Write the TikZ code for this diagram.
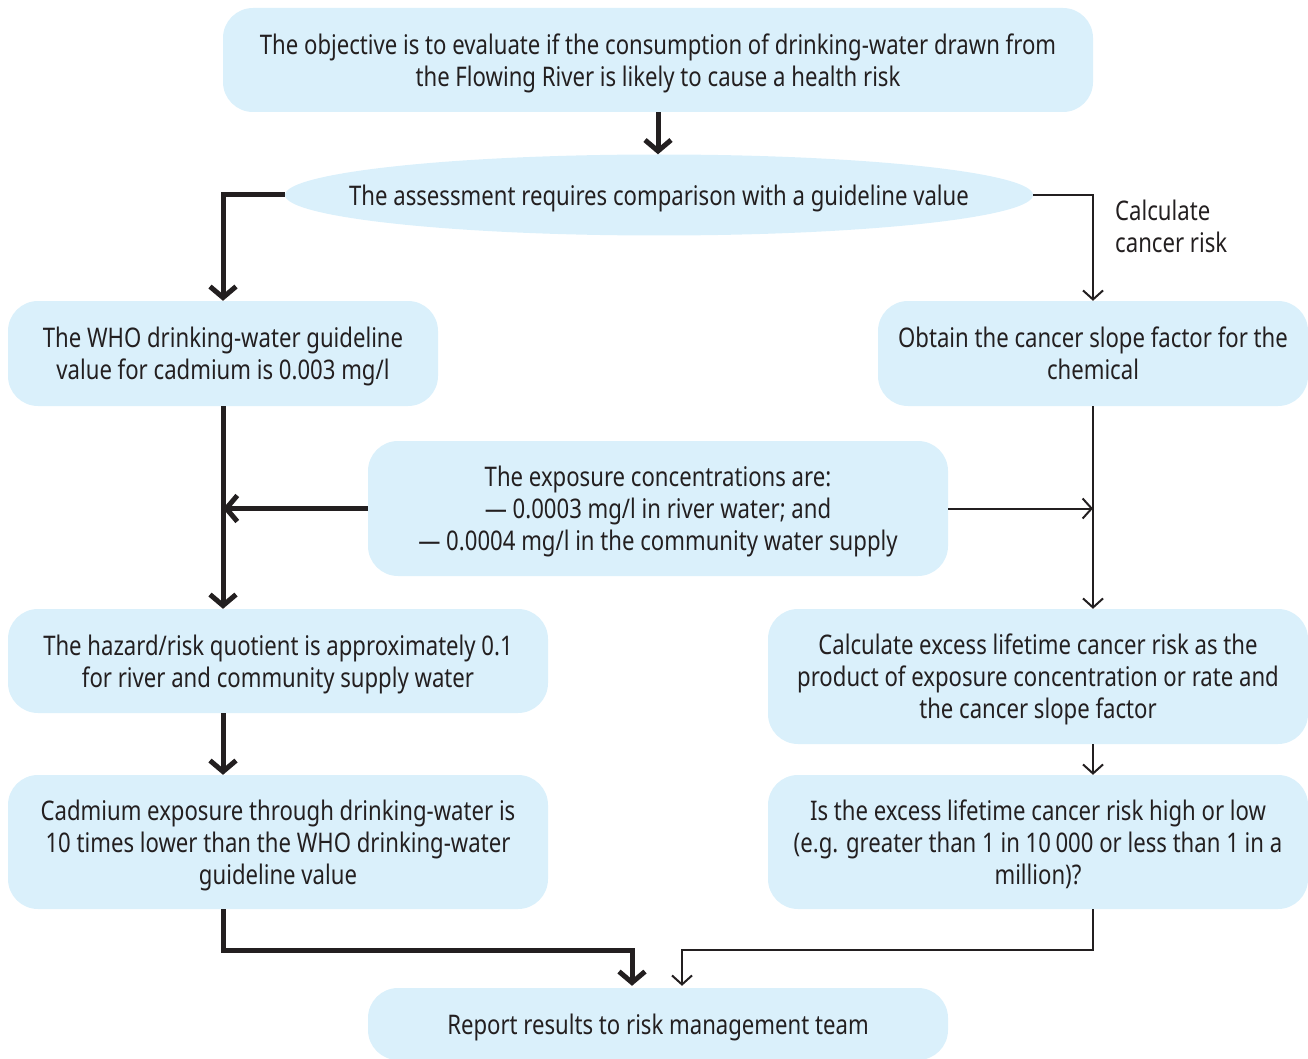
\documentclass[tikz,border=0pt]{standalone}
\usepackage{fontspec}
\setmainfont{Noto Sans}[FakeStretch=0.82]
\usetikzlibrary{arrows.meta,shapes.geometric,calc}
\definecolor{boxfill}{HTML}{DAF0FB}
\definecolor{ink}{HTML}{231F20}
\newcommand{\tst}{\rule{0pt}{30pt}}
\tikzset{
  box/.style={draw=none,fill=boxfill,rounded corners=30pt,inner sep=0pt,align=center,text=ink,
    font=\fontsize{27}{32}\selectfont},
  thickline/.style={draw=ink,line width=5pt,-{Straight Barb[length=11pt,width=26pt]}},
  thinline/.style={draw=ink,line width=2pt,-{Straight Barb[length=9pt,width=20pt]}},
}
\begin{document}
\begin{tikzpicture}[x=1pt,y=-1pt]
\useasboundingbox (0,0) rectangle (1308,1059);
\node[box,minimum width=870pt,minimum height=104pt] (top) at (658,60)
  {\tst The objective is to evaluate if the consumption of drinking-water drawn from\\\strut the Flowing River is likely to cause a health risk};
\node[box,ellipse,minimum width=748pt,minimum height=81pt] (ell) at (659,195)
  {\makebox[0pt][c]{\tst\strut The assessment requires comparison with a guideline value}};
\node[box,minimum width=430pt,minimum height=105pt] (who) at (223,353.5)
  {\tst The WHO drinking-water guideline\\\strut value for cadmium is 0.003 mg/l};
\node[box,minimum width=430pt,minimum height=105pt] (slope) at (1093,353.5)
  {\tst Obtain the cancer slope factor for the\\\strut chemical};
\node[box,minimum width=580pt,minimum height=135pt] (exp) at (658,508.5)
  {\tst The exposure concentrations are:\\\strut — 0.0003 mg/l in river water; and\\\strut — 0.0004 mg/l in the community water supply};
\node[box,minimum width=540pt,minimum height=104pt] (haz) at (278,661)
  {\tst The hazard/risk quotient is approximately 0.1\\\strut for river and community supply water};
\node[box,minimum width=540pt,minimum height=135pt] (calc) at (1038,676.5)
  {\tst Calculate excess lifetime cancer risk as the\\\strut product of exposure concentration or rate and\\\strut the cancer slope factor};
\node[box,minimum width=540pt,minimum height=134pt] (cad) at (278,842)
  {\tst Cadmium exposure through drinking-water is\\\strut 10 times lower than the WHO drinking-water\\\strut guideline value};
\node[box,minimum width=540pt,minimum height=134pt] (isex) at (1038,842)
  {\tst Is the excess lifetime cancer risk high or low\\\strut (e.g. greater than 1 in 10\,000 or less than 1 in a\\\strut million)?};
\node[box,minimum width=580pt,minimum height=72pt] (rep) at (658,1024)
  {\tst\strut Report results to risk management team};
\node[anchor=north west,align=left,text=ink,inner sep=0pt,font=\fontsize{27}{32}\selectfont] (lab) at (1115,200)
  {Calculate\\cancer risk};
% connectors
\draw[thickline] (top.south) -- (top.south |- ell.north);
\draw[thickline] (ell.west) -| (who.north);
\draw[thinline] (ell.east) -| (slope.north);
\draw[thickline] (who.south) -- (who.south |- haz.north);
\draw[thickline] (exp.west) -- (exp.west -| who.south);
\draw[thinline] (exp.east) -- (exp.east -| slope.south);
\draw[thinline] (slope.south) -- (slope.south |- calc.north);
\draw[thickline] (who.south |- haz.south) -- (who.south |- cad.north);
\draw[thinline] (slope.south |- calc.south) -- (slope.south |- isex.north);
\coordinate (jl) at ($(rep.north)+(-26,-2)$);
\coordinate (jr) at ($(rep.north)+(24,-2)$);
\draw[thickline] (who.south |- cad.south) -- ++(0,41) -| (jl);
\draw[thinline] (slope.south |- isex.south) -- ++(0,41) -| (jr);
\end{tikzpicture}
\end{document}
